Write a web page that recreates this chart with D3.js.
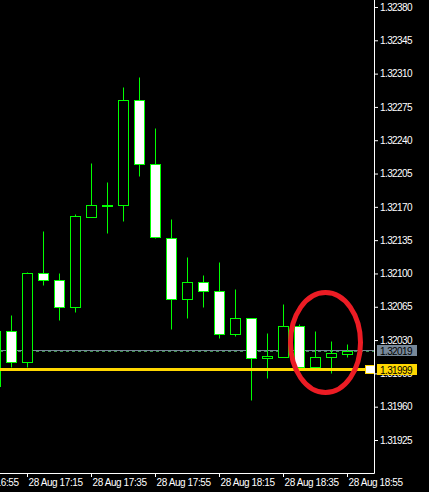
<!DOCTYPE html>
<meta charset="utf-8">

<!-- Load d3.js -->
<script src="https://d3js.org/d3.v7.min.js"></script>

<div id="chart"></div>

<style>
body {
  margin: 0;
  background: #000;
}
.axis text {
  font: 10px "Liberation Sans", Arial, sans-serif;
  fill: #fff;
}
.axis line {
  stroke: #fff;
}
</style>

<script>

// 5 minute bars, 28 Aug
var times  = ["17:05","17:10","17:15","17:20","17:25","17:30","17:35","17:40","17:45","17:50","17:55","18:00",
              "18:05","18:10","18:15","18:20","18:25","18:30","18:35","18:40","18:45","18:50","18:55"];
var opens  = [1.31982,1.32040,1.32007,1.32101,1.32093,1.32065,1.32159,1.32172,1.32172,1.32282,1.32215,1.32137,
              1.32073,1.32091,1.32082,1.32036,1.32053,1.32011,1.32012,1.32045,1.32002,1.32012,1.32015];
var highs  = [1.32043,1.32056,1.32102,1.32145,1.32101,1.32162,1.32216,1.32196,1.32296,1.32306,1.32253,1.32157,
              1.32117,1.32098,1.32112,1.32084,1.32053,1.32037,1.32068,1.32047,1.32040,1.32029,1.32026];
var lows   = [1.31980,1.32002,1.32002,1.32088,1.32051,1.32059,1.32159,1.32143,1.32155,1.32202,1.32137,1.32042,
              1.32053,1.32065,1.32032,1.32034,1.31967,1.31990,1.32012,1.32002,1.32002,1.31995,1.32012];
var closes = [1.32040,1.32007,1.32101,1.32093,1.32065,1.32160,1.32172,1.32172,1.32282,1.32215,1.32138,1.32073,
              1.32091,1.32082,1.32036,1.32053,1.32011,1.32013,1.32045,1.32002,1.32012,1.32016,1.32019];

// axis ticks
var priceTicks = [1.32380,1.32345,1.32310,1.32275,1.32240,1.32205,1.32170,1.32135,
                  1.32100,1.32065,1.32030,1.31995,1.31960,1.31925];
var timeTicks  = ["16:55","17:15","17:35","17:55","18:15","18:35","18:55"];

// bid line and horizontal level
var bidPrice = 1.32019;
var levelPrice = 1.31999;

var width = 429, height = 492;
var plotRight = 374, plotBottom = 473;

var parse = function(s) {
  var p = s.split(":");
  return new Date(2013, 7, 28, +p[0], +p[1]);
};

var bars = times.map(function(t, i) {
  return {t: parse(t), o: opens[i], h: highs[i], l: lows[i], c: closes[i]};
});

var svg = d3.select("#chart")
  .append("svg")
    .attr("width", width)
    .attr("height", height)
    .style("display", "block")
    .style("background", "#000");

// scales
var x = d3.scaleTime()
  .domain([parse("16:55"), parse("18:55")])
  .range([-37, 347]);

var y = d3.scaleLinear()
  .domain([1.32380, 1.31925])
  .range([7, 440]);

var sy = function(v) { return Math.round(y(v)) + 0.5; };
var sx = function(d) { return Math.round(x(d)) + 0.5; };

// bid line (grey + dotted green under it)
svg.append("line")
  .attr("x1", 0).attr("x2", plotRight)
  .attr("y1", sy(bidPrice) - 1).attr("y2", sy(bidPrice) - 1)
  .attr("stroke", "#778899");
svg.append("line")
  .attr("x1", 0).attr("x2", plotRight)
  .attr("y1", sy(bidPrice)).attr("y2", sy(bidPrice))
  .attr("stroke", "#3d8f4f")
  .attr("stroke-dasharray", "3,3");

// candles
var candle = svg.append("g")
  .selectAll("g")
  .data(bars)
  .enter()
  .append("g");

candle.append("line")
  .attr("x1", function(d) { return sx(d.t); })
  .attr("x2", function(d) { return sx(d.t); })
  .attr("y1", function(d) { return sy(d.h); })
  .attr("y2", function(d) { return sy(d.l); })
  .attr("stroke", "#00ff00");

candle.append("rect")
  .attr("x", function(d) { return sx(d.t) - 5; })
  .attr("width", 10)
  .attr("y", function(d) { return sy(Math.max(d.o, d.c)); })
  .attr("height", function(d) { return Math.max(1, sy(Math.min(d.o, d.c)) - sy(Math.max(d.o, d.c))); })
  .attr("fill", function(d) { return d.c >= d.o ? "#000" : "#fff"; })
  .attr("stroke", "#00ff00");

// horizontal level line
svg.append("line")
  .attr("x1", 0).attr("x2", 365)
  .attr("y1", Math.round(y(levelPrice)) - 0.5).attr("y2", Math.round(y(levelPrice)) - 0.5)
  .attr("stroke", "#ffd700")
  .attr("stroke-width", 3);
svg.append("rect")
  .attr("x", 365.5).attr("y", Math.round(y(levelPrice)) - 4.5)
  .attr("width", 9).attr("height", 8)
  .attr("fill", "#fff")
  .attr("stroke", "#ffd700");

// frame
svg.append("line")
  .attr("x1", 0).attr("x2", plotRight + 0.5)
  .attr("y1", plotBottom + 0.5).attr("y2", plotBottom + 0.5)
  .attr("stroke", "#fff");
svg.append("line")
  .attr("x1", plotRight + 0.5).attr("x2", plotRight + 0.5)
  .attr("y1", 0).attr("y2", plotBottom + 0.5)
  .attr("stroke", "#fff");

// price axis
var yAxis = svg.append("g")
  .attr("class", "axis")
  .attr("transform", "translate(" + plotRight + ",0)")
  .call(d3.axisRight(y)
    .tickValues(priceTicks)
    .tickSize(4)
    .tickPadding(2)
    .tickFormat(d3.format(".5f")));
yAxis.select(".domain").remove();
yAxis.selectAll("text").attr("letter-spacing", "-0.6px");

// time axis
var xAxis = svg.append("g")
  .attr("class", "axis")
  .attr("transform", "translate(0," + plotBottom + ")")
  .call(d3.axisBottom(x)
    .tickValues(timeTicks.map(parse))
    .tickSize(4)
    .tickPadding(2)
    .tickFormat(d3.timeFormat("%d %b %H:%M")));
xAxis.select(".domain").remove();
xAxis.selectAll("text")
  .attr("text-anchor", "start")
  .attr("x", 1)
  .attr("letter-spacing", "-0.4px");

// price labels on the axis
var tags = [
  {p: bidPrice, fill: "#778899"},
  {p: levelPrice, fill: "#ffd700"}
];
tags.forEach(function(t) {
  var cy = Math.round(y(t.p));
  svg.append("rect")
    .attr("x", 377).attr("y", cy - 6)
    .attr("width", 40).attr("height", 11)
    .attr("fill", t.fill);
  svg.append("text")
    .attr("x", 380).attr("y", cy)
    .attr("dy", "0.35em")
    .attr("letter-spacing", "-0.6px")
    .style("font", "10px 'Liberation Sans', Arial, sans-serif")
    .attr("fill", "#000")
    .text(d3.format(".5f")(t.p));
});

// red circle drawn around the last bars
svg.append("ellipse")
  .attr("cx", 325.5).attr("cy", 342.5)
  .attr("rx", 35).attr("ry", 50)
  .attr("fill", "none")
  .attr("stroke", "#ec1c24")
  .attr("stroke-width", 5);

</script>
